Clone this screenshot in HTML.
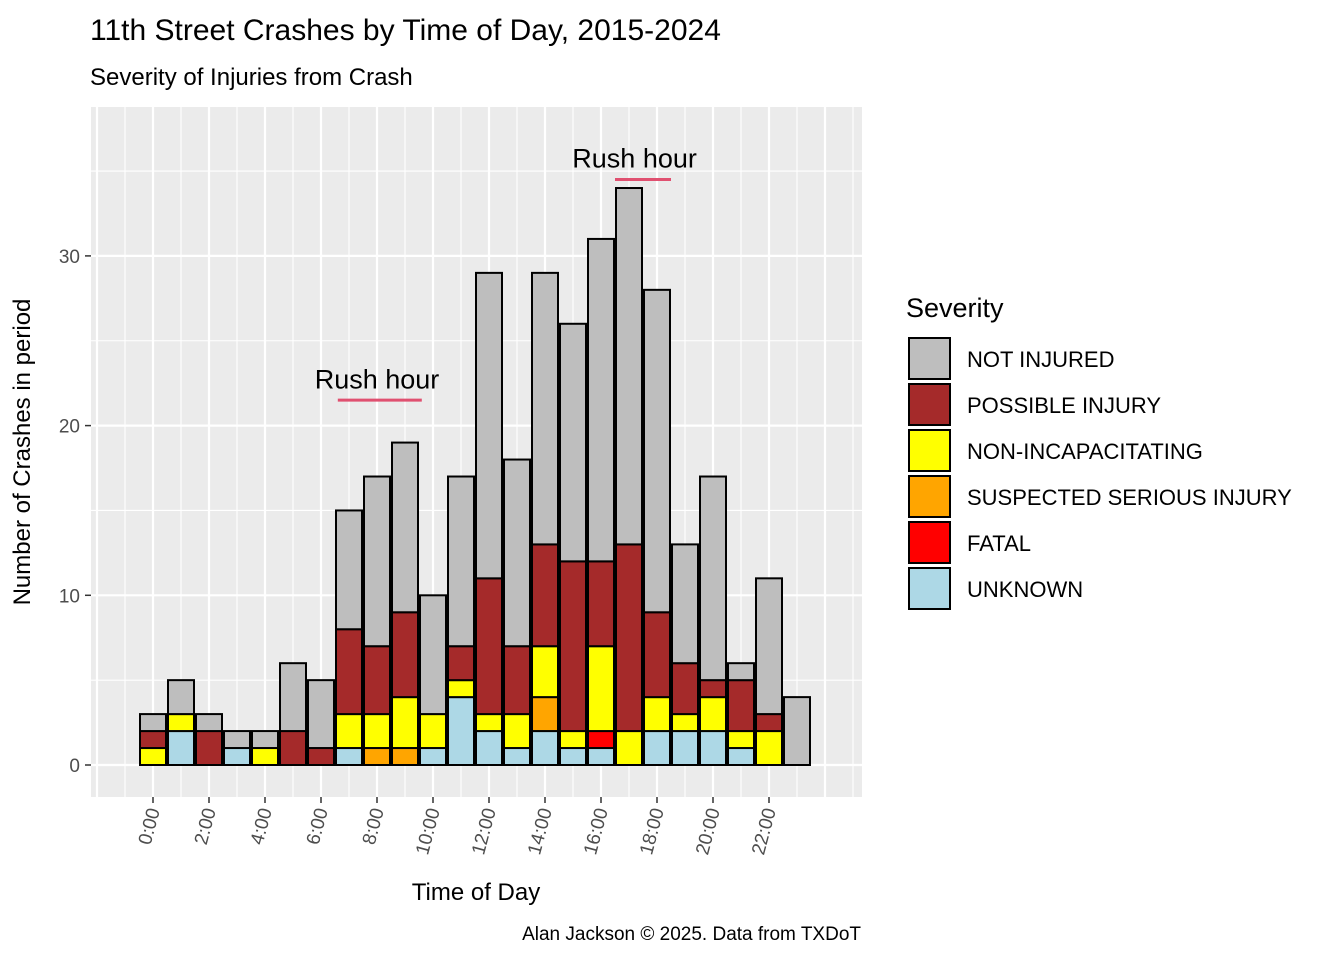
<!DOCTYPE html>
<html><head><meta charset="utf-8"><style>body{margin:0;background:#fff}svg{font-family:"Liberation Sans",Arial,sans-serif}</style></head>
<body>
<svg id="c" width="1344" height="960" xmlns="http://www.w3.org/2000/svg">
<text x="90" y="40" font-size="30" fill="#000">11th Street Crashes by Time of Day, 2015-2024</text>
<text x="90" y="85" font-size="24" fill="#000">Severity of Injuries from Crash</text>
<rect x="91" y="107" width="771" height="690" fill="#ebebeb"/>
<g id="grid"></g>
<g id="bars"></g>
<g id="axes"></g>
<text x="30" y="452" font-size="24" text-anchor="middle" transform="rotate(-90 30 452)">Number of Crashes in period</text>
<text x="476" y="900" font-size="24" text-anchor="middle">Time of Day</text>
<text x="861" y="940" font-size="19" text-anchor="end">Alan Jackson © 2025. Data from TXDoT</text>
<g id="legend"></g>
</svg>
<script>
const hours = [0,1,2,3,4,5,6,7,8,9,10,11,12,13,14,15,16,17,18,19,20,21,22,23];
const unknown     = [0,2,0,1,0,0,0,1,0,0,1,4,2,1,2,1,1,0,2,2,2,1,0,0];
const fatal       = [0,0,0,0,0,0,0,0,0,0,0,0,0,0,0,0,1,0,0,0,0,0,0,0];
const suspected   = [0,0,0,0,0,0,0,0,1,1,0,0,0,0,2,0,0,0,0,0,0,0,0,0];
const nonincap    = [1,1,0,0,1,0,0,2,2,3,2,1,1,2,3,1,5,2,2,1,2,1,2,0];
const possible    = [1,0,2,0,0,2,1,5,4,5,0,2,8,4,6,10,5,11,5,3,1,3,1,0];
const notInjured  = [1,2,1,1,1,4,4,7,10,10,7,10,18,11,16,14,19,21,19,7,12,1,8,4];
const seriesNames = ["UNKNOWN","FATAL","SUSPECTED SERIOUS INJURY","NON-INCAPACITATING","POSSIBLE INJURY","NOT INJURED"];
const seriesColors= ["#add8e6","#ff0000","#ffa500","#ffff00","#a52a2a","#bebebe"];
const yTicks = [0,10,20,30];
const xTickHours = [0,2,4,6,8,10,12,14,16,18,20,22];
const annotations = [{label:"Rush hour",x:8,y:22.2,u0:6.6,u1:9.6,uy:22.0-0.5},{label:"Rush hour",x:18,y:35.2,u0:16.5,u1:18.5,uy:35.0-0.5}];
annotations[1].x=17.2;
const series=[unknown,fatal,suspected,nonincap,possible,notInjured];
const NS="http://www.w3.org/2000/svg";
const X=h=>153+28*h, Y=v=>765-16.97*v;
function mk(tag,attrs,parent,txt){const e=document.createElementNS(NS,tag);for(const k in attrs)e.setAttribute(k,attrs[k]);if(txt!==undefined)e.textContent=txt;document.getElementById(parent).appendChild(e);return e;}
// grid
for(let v=5;v<=35;v+=10){const l=mk('line',{x1:91,x2:862,y1:Y(v),y2:Y(v),stroke:'#fff','stroke-width':1.1},'grid');}
for(const v of yTicks){const l=mk('line',{x1:91,x2:862,y1:Y(v),y2:Y(v),stroke:'#fff','stroke-width':2.2},'grid');}
for(let h=-2;h<=25;h++){const l=mk('line',{x1:X(h),x2:X(h),y1:107,y2:797,stroke:'#fff','stroke-width':h%2===0?2.2:1.1},'grid');}
// bars
hours.forEach((h,i)=>{let base=0;series.forEach((s,k)=>{const v=s[i];if(v>0){const r=mk('rect',{x:X(h)-13,width:26,y:Y(base+v),height:Y(base)-Y(base+v),fill:seriesColors[k],stroke:'#000','stroke-width':2},'bars');}base+=v;});});
// axes
for(const v of yTicks){mk('line',{x1:85,x2:91,y1:Y(v),y2:Y(v),stroke:'#333','stroke-width':1.5},'axes');const t=mk('text',{x:80,y:Y(v)+7,'font-size':19,'text-anchor':'end',fill:'#4d4d4d'},'axes',v);}
for(const h of xTickHours){mk('line',{x1:X(h),x2:X(h),y1:797,y2:803,stroke:'#333','stroke-width':1.5},'axes');const t=mk('text',{x:X(h)+7,y:810,'font-size':19,'text-anchor':'end',fill:'#4d4d4d',transform:`rotate(-75 ${X(h)+7} 810)`},'axes',h+':00');}
// annotations
annotations.forEach(a=>{const t=mk('text',{x:X(a.x),y:Y(a.y),'font-size':27,'text-anchor':'middle'},'axes',a.label);
const l=mk('line',{x1:X(a.u0),x2:X(a.u1),y1:Y(a.uy),y2:Y(a.uy),stroke:'#e05070','stroke-width':3},'axes');});
// legend
mk('text',{x:906,y:317,'font-size':27},'legend','Severity');
for(let j=0;j<6;j++){const k=5-j;const y=337+46*j;const g=mk('g',{},'legend');
const r=document.createElementNS(NS,'rect');[['x',909],['y',y+1],['width',41],['height',41],['fill',seriesColors[k]],['stroke','#000'],['stroke-width',2]].forEach(p=>r.setAttribute(p[0],p[1]));g.appendChild(r);
const t=document.createElementNS(NS,'text');t.setAttribute('x',967);t.setAttribute('y',y+30);t.setAttribute('font-size',22);t.textContent=seriesNames[k];g.appendChild(t);}
</script>
</body></html>
